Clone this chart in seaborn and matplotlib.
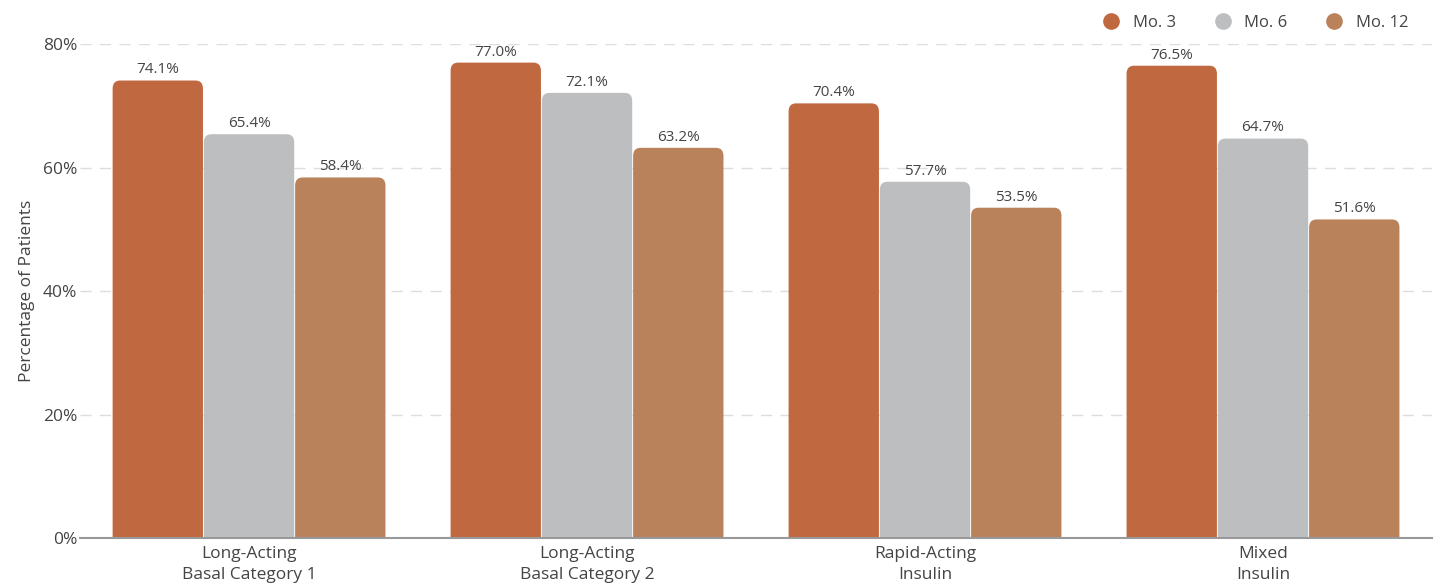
import pandas as pd
import matplotlib
matplotlib.use("Agg")
import matplotlib.pyplot as plt
import seaborn as sns
from matplotlib.patches import FancyBboxPatch
from matplotlib.lines import Line2D

categories = ["Long-Acting\nBasal Category 1", "Long-Acting\nBasal Category 2",
              "Rapid-Acting\nInsulin", "Mixed\nInsulin"]
series = ["Mo. 3", "Mo. 6", "Mo. 12"]
mo3 = [74.1, 77.0, 70.4, 76.5]
mo6 = [65.4, 72.1, 57.7, 64.7]
mo12 = [58.4, 63.2, 53.5, 51.6]
colors = ["#C0683F", "#BDBEC0", "#B9825B"]

rows = []
for name, vals in zip(series, [mo3, mo6, mo12]):
    for cat, v in zip(categories, vals):
        rows.append({"category": cat, "period": name, "value": v})
df = pd.DataFrame(rows)

sns.set_style("white")
plt.rcParams["font.family"] = ["Open Sans", "DejaVu Sans"]
text_color = "#444444"

fig = plt.figure(figsize=(14.45, 5.88), dpi=100)
ax = fig.add_axes([0.0554, 0.085, 0.9356, 0.84])

sns.barplot(data=df, x="category", y="value", hue="period", hue_order=series,
            palette=colors, width=0.81, gap=0.01, ax=ax, legend=False,
            saturation=1, edgecolor="none")

ax.set_ylim(0, 80)
ax.set_xlim(-0.5, 3.5)

# swap bars for rounded ones
r_x = 0.022
r_y = 1.3
for p in list(ax.patches):
    x, w, h = p.get_x(), p.get_width(), p.get_height()
    fc = p.get_facecolor()
    p.remove()
    fb = FancyBboxPatch((x, -r_y * 2), w, h + r_y * 2,
                        boxstyle=f"round,pad=0,rounding_size={r_x}",
                        mutation_aspect=r_y / r_x, facecolor=fc,
                        edgecolor="none", zorder=2)
    ax.add_patch(fb)
    ax.text(x + w / 2, h + 0.5, f"{h:.1f}%", ha="center", va="bottom",
            fontsize=11, color=text_color)

ax.set_yticks([0, 20, 40, 60, 80])
ax.set_yticklabels(["0%", "20%", "40%", "60%", "80%"])
ax.set_xticks(range(len(categories)))
ax.set_xticklabels(categories, linespacing=1.35)
ax.yaxis.grid(True, linestyle=(0, (8, 6)), color="#DDDDDD", linewidth=1)
ax.set_axisbelow(True)
ax.tick_params(axis="both", length=0, labelsize=12.5, labelcolor=text_color)
ax.tick_params(axis="x", pad=6)
ax.tick_params(axis="y", pad=2)
for s in ["top", "right", "left"]:
    ax.spines[s].set_visible(False)
ax.spines["bottom"].set_color("#999999")
ax.spines["bottom"].set_linewidth(1.5)
ax.spines["bottom"].set_zorder(3)

ax.set_xlabel("")
ax.set_ylabel("Percentage of Patients", fontsize=12.5, color=text_color, labelpad=6)

handles = [Line2D([], [], marker="o", linestyle="none", markersize=12,
                  markerfacecolor=c, markeredgecolor="none") for c in colors]
fig.legend(handles, series, loc="upper right", bbox_to_anchor=(0.985, 1.0),
           ncol=3, frameon=False, fontsize=12, labelcolor=text_color,
           handletextpad=0.3, columnspacing=1.8)

fig.savefig("out.png", dpi=100)
